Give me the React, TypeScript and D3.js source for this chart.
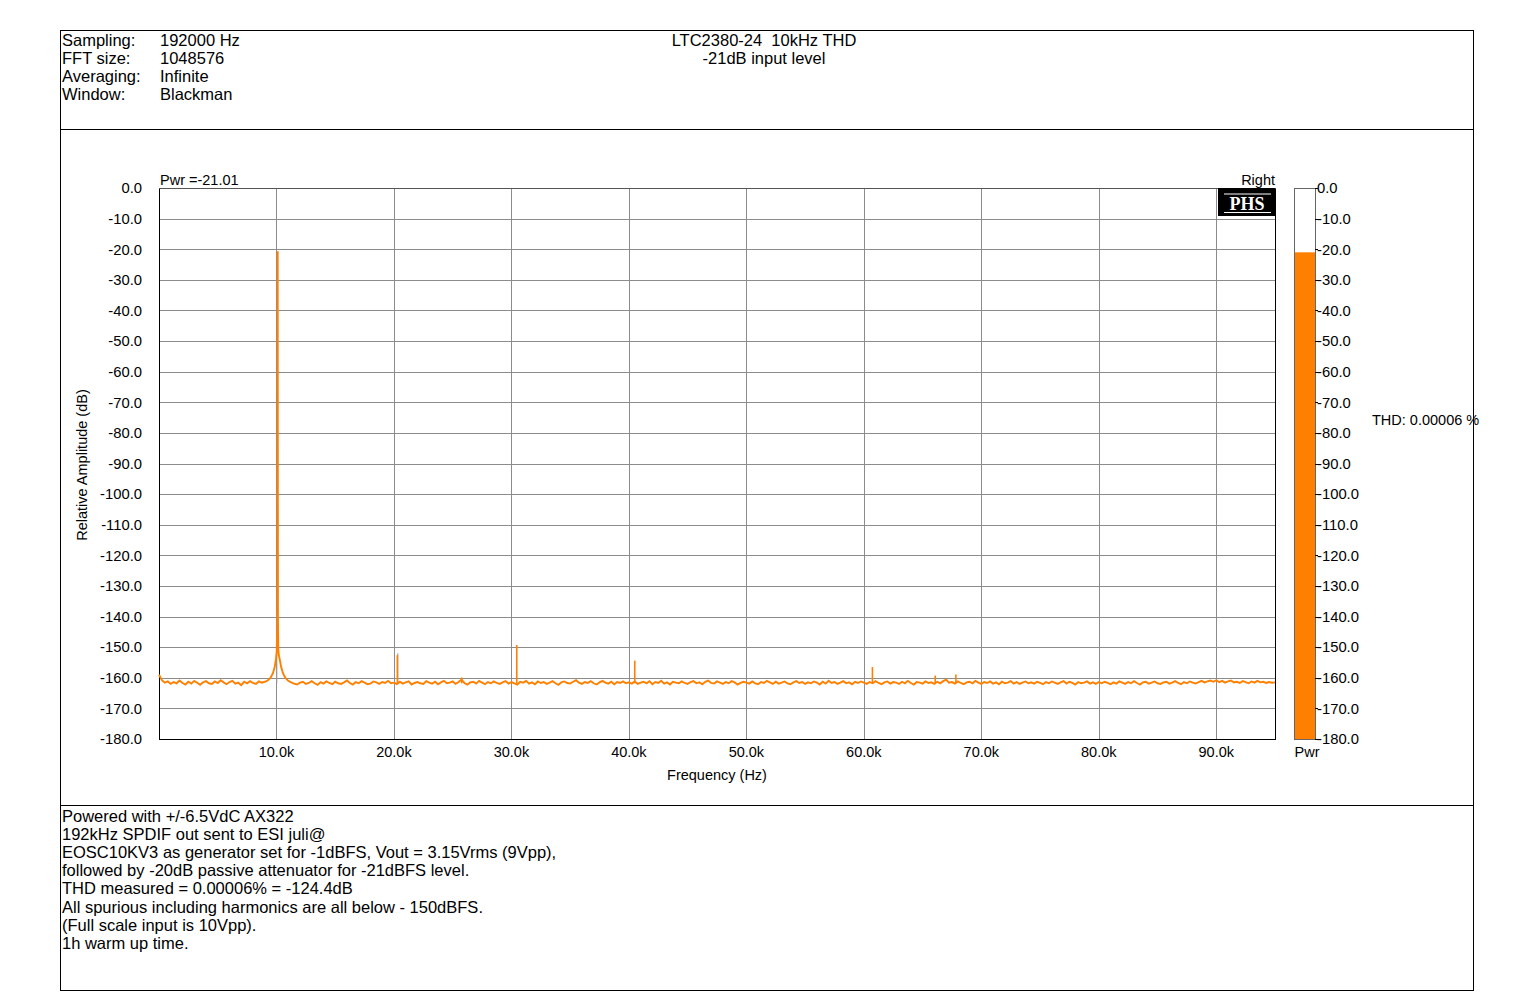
import React from "react";
import * as d3 from "d3";

const headerLabels = ["Sampling:", "FFT size:", "Averaging:", "Window:"];
const headerValues = ["192000 Hz", "1048576", "Infinite", "Blackman"];
const titleLines = ["LTC2380-24  10kHz THD", "-21dB input level"];
const notes = [
  "Powered with +/-6.5VdC AX322",
  "192kHz SPDIF out sent to ESI juli@",
  "EOSC10KV3 as generator set for -1dBFS, Vout = 3.15Vrms (9Vpp),",
  "followed by -20dB passive attenuator for -21dBFS level.",
  "THD measured = 0.00006% = -124.4dB",
  "All spurious including harmonics are all below - 150dBFS.",
  "(Full scale input is 10Vpp).",
  "1h warm up time.",
];

const xTicks = [10000, 20000, 30000, 40000, 50000, 60000, 70000, 80000, 90000];
const yTicks = [0, -10, -20, -30, -40, -50, -60, -70, -80, -90, -100, -110, -120, -130, -140, -150, -160, -170, -180];

const noiseStepHz = 250;
// noise floor samples, every 250 Hz from 0 Hz
const noiseDb = [
  -159.0,-160.8,-161.6,-161.2,-162.0,-161.4,-161.8,-160.9,-161.7,-162.2,-161.3,-161.9,-161.0,-161.6,-162.3,-161.5,-161.1,-161.8,-162.0,-161.2,
  -161.7,-160.8,-161.5,-162.1,-161.4,-161.0,-161.9,-161.6,-162.4,-161.3,-161.8,-161.1,-161.7,-162.0,-161.2,-161.6,-161.3,-160.9,-160.2,-159.0,
  -161.5,-161.5,-161.5,-161.5,-161.5,-161.0,-161.9,-162.2,-161.6,-161.3,-162.0,-161.7,-161.1,-161.8,-162.3,-161.4,-161.9,-161.2,-161.7,-162.1,
  -161.3,-161.8,-162.0,-161.5,-160.9,-161.7,-162.2,-161.4,-161.8,-161.1,-161.6,-162.1,-161.9,-161.2,-161.5,-162.0,-161.4,-161.7,-161.0,-161.8,
  -161.6,-162.1,-161.3,-161.9,-161.5,-161.2,-162.2,-161.7,-161.4,-161.8,-162.0,-161.1,-161.6,-161.9,-161.3,-162.1,-161.5,-161.0,-161.8,-161.6,
  -161.2,-162.0,-161.4,-160.6,-161.7,-162.2,-161.5,-161.3,-161.9,-161.0,-161.6,-162.1,-161.4,-161.8,-161.2,-161.7,-162.0,-161.5,-161.1,-161.9,
  -161.4,-161.8,-162.2,-161.3,-161.6,-161.0,-161.9,-161.5,-162.1,-161.2,-161.7,-161.4,-162.0,-161.6,-161.1,-161.8,-162.3,-161.5,-161.2,-161.7,
  -161.9,-161.3,-160.8,-161.6,-162.0,-161.4,-161.7,-161.1,-161.8,-162.2,-161.5,-161.0,-161.6,-161.9,-161.3,-162.1,-161.4,-161.7,-161.2,-161.8,
  -161.5,-161.9,-161.2,-162.0,-161.6,-161.3,-161.8,-161.1,-162.1,-161.4,-161.7,-161.0,-161.9,-161.5,-162.2,-161.3,-161.6,-161.8,-161.2,-161.7,
  -162.0,-161.4,-161.1,-161.8,-161.5,-162.1,-161.3,-160.9,-161.7,-161.9,-161.2,-161.6,-162.0,-161.4,-161.8,-161.1,-161.5,-162.2,-161.7,-161.3,
  -161.6,-161.9,-161.2,-161.8,-162.1,-161.4,-161.7,-161.0,-161.5,-162.0,-161.3,-161.9,-161.6,-161.2,-161.8,-162.1,-161.5,-161.1,-161.7,-161.4,
  -162.0,-161.5,-161.8,-161.2,-161.6,-162.2,-161.3,-161.9,-161.0,-161.7,-161.4,-162.0,-161.6,-161.1,-161.8,-161.5,-162.1,-161.3,-161.7,-161.2,
  -161.6,-162.0,-161.4,-161.8,-161.1,-161.7,-162.1,-161.5,-161.2,-161.9,-161.4,-161.6,-162.0,-161.3,-161.8,-161.0,-161.7,-162.2,-161.4,-161.6,
  -161.9,-161.2,-161.7,-161.5,-162.0,-161.3,-161.8,-161.1,-160.6,-161.6,-161.4,-161.9,-161.2,-161.7,-162.1,-161.5,-161.3,-161.8,-161.0,-161.6,
  -162.0,-161.4,-161.7,-161.2,-161.9,-161.5,-162.1,-161.3,-161.8,-161.6,-161.1,-161.9,-161.4,-162.0,-161.6,-161.2,-161.8,-161.5,-161.9,-161.3,
  -161.7,-162.1,-161.4,-161.8,-161.2,-161.6,-162.0,-161.5,-161.1,-161.9,-161.3,-161.7,-162.2,-161.4,-161.8,-161.6,-161.2,-161.9,-161.5,-162.0,
  -161.4,-161.8,-161.3,-161.7,-162.1,-161.5,-161.9,-161.2,-161.6,-162.0,-161.4,-161.8,-161.1,-161.7,-162.2,-161.5,-161.3,-161.9,-161.6,-161.2,
  -161.8,-162.0,-161.5,-161.3,-161.9,-161.6,-161.1,-161.7,-162.1,-161.4,-161.8,-161.2,-161.6,-161.9,-161.4,-161.0,-161.5,-161.2,-160.9,-161.3,
  -160.8,-161.4,-161.0,-161.6,-161.2,-160.9,-161.5,-161.3,-161.7,-161.1,-161.4,-161.8,-161.2,-161.6,-161.0,-161.5,-161.3,-161.7,-161.4,-161.6,
  -161.5,
];

// fundamental and its skirt
const peakHz = [9000, 9250, 9500, 9700, 9850, 9950, 10020, 10060, 10080, 10095, 10100, 10105, 10110, 10125, 10150, 10200, 10300, 10400, 10550, 10750, 11000, 11250];
const peakDb = [-161.3, -160.9, -160.0, -158.5, -156.5, -154.0, -151.5, -145.0, -139.5, -60.0, -21.0, -21.0, -60.0, -140.0, -150.5, -152.5, -154.5, -156.5, -158.5, -160.0, -161.0, -161.5];

// spurious tones (Hz, dB)
const spurHz = [20290, 25770, 30455, 40500, 60730, 66075, 67835];
const spurDb = [-152.6, -159.9, -149.3, -154.4, -156.5, -159.3, -158.9];
const spurBaseDb = -161.8;

// other channel residue visible behind the trace
const greyHz = [10030, 20330];
const greyDb = [-138.0, -152.0];

const pwrDb = -21.01;
const thdText = "THD: 0.00006 %";

const ORANGE = "#ff8000";
const GRID = "#8c8c8c";
const FONT = "'Liberation Sans', Arial, Helvetica, sans-serif";

export default function App() {
  const W = 1530, H = 1000;
  const pl = 159, pr = 1275, pt = 188, pb = 739;
  const x = d3.scaleLinear().domain([0, 95000]).range([pl, pr]);
  const y = d3.scaleLinear().domain([0, -180]).range([pt, pb]);
  const yBar = d3.scaleLinear().domain([0, -180]).range([pt, pb]);

  const series: [number, number][] = [];
  noiseDb.forEach((v, i) => {
    const f = i * noiseStepHz;
    if (f < peakHz[0] || f > peakHz[peakHz.length - 1]) series.push([f, v]);
  });
  peakHz.forEach((f, i) => series.push([f, peakDb[i]]));
  series.sort((a, b) => a[0] - b[0]);

  const line = d3.line<[number, number]>().x((d) => x(d[0])).y((d) => y(d[1]));

  const barL = 1294, barR = 1315;

  return (
    <svg width={W} height={H} style={{ display: "block", position: "absolute", left: 0, top: 0 }} fontFamily={FONT}>
      <rect x={0} y={0} width={W} height={H} fill="#fff" />
      {/* outer boxes */}
      <rect x={60.5} y={30.5} width={1413} height={960} fill="none" stroke="#000" strokeWidth={1} />
      <line x1={60} x2={1474} y1={129.5} y2={129.5} stroke="#000" />
      <line x1={60} x2={1474} y1={805.5} y2={805.5} stroke="#000" />

      {/* header */}
      {headerLabels.map((t, i) => (
        <text key={"hl" + i} x={62} y={46 + i * 18} fontSize={16.5}>{t}</text>
      ))}
      {headerValues.map((t, i) => (
        <text key={"hv" + i} x={160} y={46 + i * 18} fontSize={16.5}>{t}</text>
      ))}
      {titleLines.map((t, i) => (
        <text key={"t" + i} x={764} y={46 + i * 18} fontSize={16.5} textAnchor="middle" style={{ whiteSpace: "pre" }}>{t}</text>
      ))}

      {/* grid */}
      {yTicks.map((v) => (
        <line key={"gy" + v} x1={pl} x2={pr} y1={Math.round(y(v)) + 0.5} y2={Math.round(y(v)) + 0.5} stroke={GRID} strokeWidth={1} />
      ))}
      {xTicks.map((v) => (
        <line key={"gx" + v} x1={Math.round(x(v)) + 0.5} x2={Math.round(x(v)) + 0.5} y1={pt} y2={pb} stroke={GRID} strokeWidth={1} />
      ))}
      {/* frame */}
      <line x1={pl + 0.5} x2={pl + 0.5} y1={pt} y2={pb + 1} stroke="#000" />
      <line x1={pr + 0.5} x2={pr + 0.5} y1={pt} y2={pb + 1} stroke="#000" />
      <line x1={pl} x2={pr + 1} y1={pb + 0.5} y2={pb + 0.5} stroke="#000" />
      <line x1={pl} x2={pr + 1} y1={pt + 0.5} y2={pt + 0.5} stroke="#555" />

      {/* y tick labels */}
      {yTicks.map((v) => (
        <text key={"yl" + v} x={142} y={y(v)} dy="0.36em" fontSize={14.8} textAnchor="end">{v.toFixed(1)}</text>
      ))}
      {xTicks.map((v) => (
        <text key={"xl" + v} x={x(v)} y={757} fontSize={14.5} textAnchor="middle">{(v / 1000).toFixed(1) + "k"}</text>
      ))}
      <text x={717} y={780} fontSize={14.5} textAnchor="middle">Frequency (Hz)</text>
      <text transform="translate(87,465) rotate(-90)" fontSize={14.5} textAnchor="middle">Relative Amplitude (dB)</text>

      <text x={160} y={185} fontSize={14.5}>{"Pwr =" + pwrDb.toFixed(2)}</text>
      <text x={1275} y={185} fontSize={14.5} textAnchor="end">Right</text>

      {/* grey residue */}
      {greyHz.map((f, i) => (
        <line key={"gr" + i} x1={x(f)} x2={x(f)} y1={y(greyDb[i])} y2={y(spurBaseDb)} stroke="#999" strokeWidth={1} />
      ))}
      {/* spurs */}
      {spurHz.map((f, i) => (
        <line key={"sp" + i} x1={x(f)} x2={x(f)} y1={y(spurDb[i])} y2={y(spurBaseDb)} stroke={ORANGE} strokeWidth={1.6} />
      ))}
      {/* trace */}
      <path d={line(series) || ""} fill="none" stroke={ORANGE} strokeWidth={1.9} strokeLinejoin="miter" />

      {/* PHS logo */}
      <rect x={1218} y={188} width={57} height={28} fill="#000" />
      <line x1={1224} x2={1271} y1={194} y2={194} stroke="#fff" strokeWidth={1} />
      <line x1={1224} x2={1271} y1={212.5} y2={212.5} stroke="#fff" strokeWidth={1} />
      <text x={1247} y={210} fontSize={18} fontWeight="bold" fill="#fff" textAnchor="middle" fontFamily="'Liberation Serif', 'DejaVu Serif', serif">PHS</text>

      {/* power bar */}
      <rect x={barL + 0.5} y={pt + 0.5} width={barR - barL} height={pb - pt} fill="#fff" stroke="#666" />
      <rect x={barL + 1} y={yBar(pwrDb)} width={barR - barL - 1} height={yBar(-180) - yBar(pwrDb)} fill={ORANGE} />
      {yTicks.map((v) => (
        <g key={"bt" + v}>
          <line x1={barR} x2={barR + 3} y1={Math.round(yBar(v)) + 0.5} y2={Math.round(yBar(v)) + 0.5} stroke="#000" />
          <text x={barR + 2} y={yBar(v)} dy="0.36em" fontSize={14.8}>{v.toFixed(1)}</text>
        </g>
      ))}
      <text x={1307} y={757} fontSize={14.5} textAnchor="middle">Pwr</text>
      <text x={1372} y={425} fontSize={14.5}>{thdText}</text>

      {/* notes */}
      {notes.map((t, i) => (
        <text key={"n" + i} x={62} y={822 + i * 18.1} fontSize={16.5}>{t}</text>
      ))}
    </svg>
  );
}
